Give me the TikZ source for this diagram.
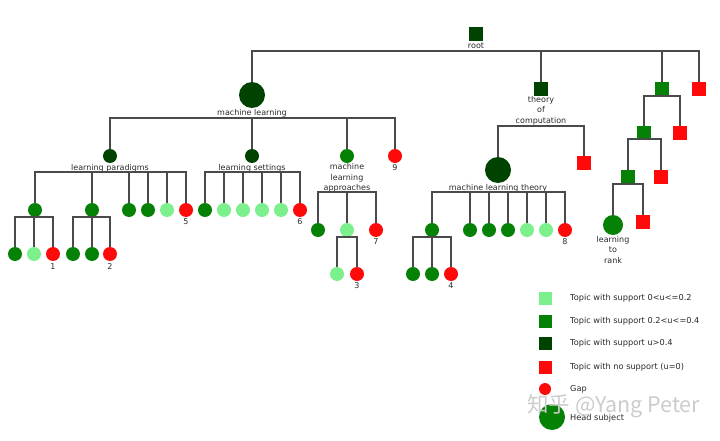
\documentclass[tikz,border=0pt]{standalone}
\usepackage{fontspec}
\setmainfont{DejaVu Sans}
\newfontfamily\cjkfont{Noto Sans CJK SC}
\definecolor{lgc}{HTML}{7CF08C}
\definecolor{mgc}{HTML}{058205}
\definecolor{dgc}{HTML}{004300}
\definecolor{rdc}{HTML}{FF0A0A}
\definecolor{linec}{HTML}{4A4A4A}
\definecolor{txtc}{HTML}{2A2A2A}
\tikzset{
  sq/.style={rectangle, minimum size=14pt, inner sep=0pt, draw=none},
  ci/.style={circle, minimum size=14pt, inner sep=0pt, draw=none},
  big/.style={circle, minimum size=26pt, inner sep=0pt, draw=none},
  lgn/.style={fill=lgc}, mgn/.style={fill=mgc}, dgn/.style={fill=dgc}, rdn/.style={fill=rdc},
  lab/.style={font=\fontsize{8}{10.5}\selectfont, text=txtc, inner sep=0pt, align=center},
  leg/.style={font=\fontsize{8.2}{10}\selectfont, text=txtc, inner sep=0pt, anchor=west},
  conn/.style={draw=linec, line width=1.1pt},
}
\begin{document}
\begin{tikzpicture}[x=1pt,y=-1pt]
\useasboundingbox[fill=white] (0,0) rectangle (720,441);
% ---- top level
\node[sq,dgn] (root) at (476,34) {};
\node[lab] (rootl) at (476,46) {root};
\coordinate (rootb) at (476,51);
\node[big,dgn] (ml) at (252,95) {};
\node[lab] (mll) at (252,113) {machine learning};
\node[sq,dgn] (toc) at (541,89) {};
\node[lab] (tocl) at (541,110.5) {theory\\of\\computation};
\node[sq,mgn] (ra) at (662,89) {};
\node[sq,rdn] (rb) at (699,89) {};
\draw[conn] (ml.north) |- (rootb) -| (rb.north);
\draw[conn] (toc.north) -- (toc.north |- rootb);
\draw[conn] (ra.north) -- (ra.north |- rootb);
% ---- machine learning children
\coordinate (mlb) at (252,118);
\node[ci,dgn] (lp) at (110,156) {};
\node[lab] (lpl) at (110,168) {learning paradigms};
\node[ci,dgn] (ls) at (252,156) {};
\node[lab] (lsl) at (252,168) {learning settings};
\node[ci,mgn] (mla) at (347,156) {};
\node[lab] (mlal) at (347,178) {machine\\learning\\approaches};
\node[ci,rdn] (n9) at (395,156) {};
\node[lab] (n9l) at (395,168) {9};
\draw[conn] (lp.north) |- (mlb) -| (n9.north);
\draw[conn] (ls.north) -- (ls.north |- mlb);
\draw[conn] (mla.north) -- (mla.north |- mlb);
% ---- learning paradigms
\coordinate (lpb) at (110,172);
\node[ci,mgn] (lpa) at (35,210) {};
\node[ci,mgn] (lpbn) at (92,210) {};
\node[ci,mgn] (lpc) at (129,210) {};
\node[ci,mgn] (lpd) at (148,210) {};
\node[ci,lgn] (lpe) at (167,210) {};
\node[ci,rdn] (lpf) at (186,210) {};
\node[lab] (n5) at (186,222) {5};
\draw[conn] (lpa.north) |- (lpb) -| (lpf.north);
\foreach \n in {lpbn,lpc,lpd,lpe} \draw[conn] (\n.north) -- (\n.north |- lpb);
% sub a
\coordinate (lpab) at (35,217);
\node[ci,mgn] (a1) at (15,254) {};
\node[ci,lgn] (a2) at (34,254) {};
\node[ci,rdn] (a3) at (53,254) {};
\node[lab] (n1) at (53,267) {1};
\draw[conn] (a1.north) |- (lpab) -| (a3.north);
\draw[conn] (a2.north) -- (a2.north |- lpab);
% sub b
\coordinate (lpbb) at (92,217);
\node[ci,mgn] (b1) at (73,254) {};
\node[ci,mgn] (b2) at (92,254) {};
\node[ci,rdn] (b3) at (110,254) {};
\node[lab] (n2) at (110,267) {2};
\draw[conn] (b1.north) |- (lpbb) -| (b3.north);
\draw[conn] (b2.north) -- (b2.north |- lpbb);
% ---- learning settings
\coordinate (lsb) at (252,172);
\node[ci,mgn] (s1) at (205,210) {};
\node[ci,lgn] (s2) at (224,210) {};
\node[ci,lgn] (s3) at (243,210) {};
\node[ci,lgn] (s4) at (262,210) {};
\node[ci,lgn] (s5) at (281,210) {};
\node[ci,rdn] (s6) at (300,210) {};
\node[lab] (n6) at (300,222) {6};
\draw[conn] (s1.north) |- (lsb) -| (s6.north);
\foreach \n in {s2,s3,s4,s5} \draw[conn] (\n.north) -- (\n.north |- lsb);
% ---- machine learning approaches
\coordinate (mlab) at (347,192);
\node[ci,mgn] (m1) at (318,230) {};
\node[ci,lgn] (m2) at (347,230) {};
\node[ci,rdn] (m3) at (376,230) {};
\node[lab] (n7) at (376,242) {7};
\draw[conn] (m1.north) |- (mlab) -| (m3.north);
\draw[conn] (m2.north) -- (m2.north |- mlab);
\coordinate (m2b) at (347,237);
\node[ci,lgn] (m21) at (337,274) {};
\node[ci,rdn] (m22) at (357,274) {};
\node[lab] (n3) at (357,286) {3};
\draw[conn] (m21.north) |- (m2b) -| (m22.north);
% ---- theory of computation
\coordinate (tocb) at (541,126);
\node[big,dgn] (mlt) at (498,170) {};
\node[lab] (mltl) at (498,188) {machine learning theory};
\node[sq,rdn] (tr) at (584,163) {};
\draw[conn] (mlt.north) |- (tocb) -| (tr.north);
\coordinate (mltb) at (498,192);
\node[ci,mgn] (t1) at (432,230) {};
\node[ci,mgn] (t2) at (470,230) {};
\node[ci,mgn] (t3) at (489,230) {};
\node[ci,mgn] (t4) at (508,230) {};
\node[ci,lgn] (t5) at (527,230) {};
\node[ci,lgn] (t6) at (546,230) {};
\node[ci,rdn] (t7) at (565,230) {};
\node[lab] (n8) at (565,242) {8};
\draw[conn] (t1.north) |- (mltb) -| (t7.north);
\foreach \n in {t2,t3,t4,t5,t6} \draw[conn] (\n.north) -- (\n.north |- mltb);
\coordinate (t1b) at (432,237);
\node[ci,mgn] (u1) at (413,274) {};
\node[ci,mgn] (u2) at (432,274) {};
\node[ci,rdn] (u3) at (451,274) {};
\node[lab] (n4) at (451,286) {4};
\draw[conn] (u1.north) |- (t1b) -| (u3.north);
\draw[conn] (u2.north) -- (u2.north |- t1b);
% ---- right subtree
\coordinate (rab) at (662,96);
\node[sq,mgn] (r1) at (644,133) {};
\node[sq,rdn] (r2) at (680,133) {};
\draw[conn] (r1.north) |- (rab) -| (r2.north);
\coordinate (r1b) at (644,139);
\node[sq,mgn] (r11) at (628,177) {};
\node[sq,rdn] (r12) at (661,177) {};
\draw[conn] (r11.north) |- (r1b) -| (r12.north);
\coordinate (r11b) at (628,184);
\node[circle, minimum size=20pt, inner sep=0pt, mgn] (ltr) at (613,225) {};
\node[lab] (ltrl) at (613,250) {learning\\to\\rank};
\node[sq,rdn] (r112) at (643,222) {};
\draw[conn] (ltr.north) |- (r11b) -| (r112.north);
% ---- legend
\node[sq,lgn,minimum size=13pt] (k1) at (545,298) {};
\node[sq,mgn,minimum size=13pt] (k2) at (545,321) {};
\node[sq,dgn,minimum size=13pt] (k3) at (545,343) {};
\node[sq,rdn,minimum size=13pt] (k4) at (545,367) {};
\node[circle,minimum size=12pt,inner sep=0pt,rdn] (k5) at (545,389) {};
\node[big,mgn] (k6) at (552,417) {};
\node[leg] (k1t) at (570,298) {Topic with support 0<u<=0.2};
\node[leg] (k2t) at (570,321) {Topic with support 0.2<u<=0.4};
\node[leg] (k3t) at (570,343) {Topic with support u>0.4};
\node[leg] (k4t) at (570,367) {Topic with no support (u=0)};
\node[leg] (k5t) at (570,389) {Gap};
\node[leg] (k6t) at (570,418) {Head subject};
% ---- watermark
\node[anchor=west, inner sep=0pt, text=black!20, font=\cjkfont\fontsize{21.5}{24}\selectfont] (wm) at (527,406) {知乎 @Yang Peter};
\end{tikzpicture}
\end{document}
